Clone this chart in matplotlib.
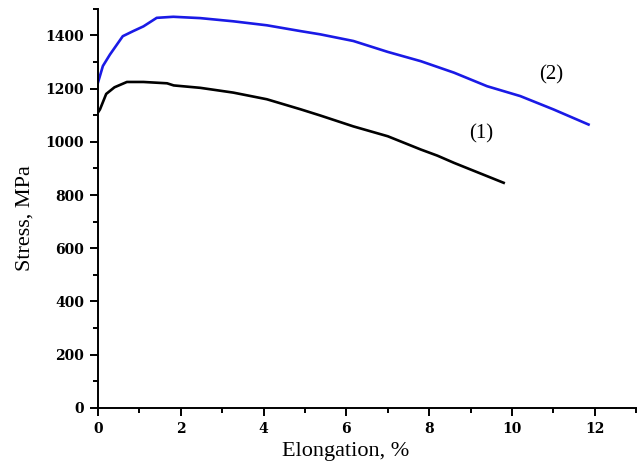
import matplotlib
matplotlib.use("Agg")
import matplotlib.pyplot as plt
from matplotlib.ticker import MultipleLocator

plt.rcParams['font.family'] = ['Liberation Serif', 'DejaVu Serif']

# curve (1), black
elong_1 = [0.0, 0.05, 0.2, 0.4, 0.7, 1.1, 1.67, 1.83, 2.47, 3.27, 4.08, 4.9, 5.37,
           6.17, 7.0, 7.8, 8.2, 8.6, 9.0, 9.8]
stress_1 = [1110, 1122, 1180, 1205, 1225, 1225, 1220, 1212, 1203, 1185, 1160, 1122, 1099,
            1058, 1021, 971, 948, 921, 896, 846]

# curve (2), blue
elong_2 = [0.0, 0.12, 0.29, 0.6, 0.85, 1.1, 1.42, 1.82, 2.47, 3.27, 4.08, 4.9, 5.37,
           6.17, 7.0, 7.8, 8.6, 9.4, 10.2, 11.0, 11.85]
stress_2 = [1222, 1285, 1328, 1397, 1416, 1434, 1466, 1470, 1465, 1453, 1438, 1416, 1404,
            1379, 1338, 1303, 1260, 1209, 1172, 1122, 1065]

fig = plt.figure(figsize=(6.4, 4.63), dpi=100)
ax = fig.add_axes([0.153, 0.119, 0.841, 0.862])

ax.plot(elong_1, stress_1, color='black', lw=1.9)
ax.plot(elong_2, stress_2, color='#1a1ae6', lw=1.9)

ax.text(9.25, 1030, '(1)', fontsize=15, ha='center', va='center')
ax.text(10.95, 1250, '(2)', fontsize=15, ha='center', va='center')

ax.set_xlim(0, 13)
ax.set_ylim(0, 1500)
ax.xaxis.set_major_locator(MultipleLocator(2))
ax.xaxis.set_minor_locator(MultipleLocator(1))
ax.yaxis.set_major_locator(MultipleLocator(200))
ax.yaxis.set_minor_locator(MultipleLocator(100))

for s in ['top', 'right']:
    ax.spines[s].set_visible(False)
for s in ['left', 'bottom']:
    ax.spines[s].set_linewidth(1.4)

ax.tick_params(which='major', direction='out', length=6, width=1.4, pad=4)
ax.tick_params(which='minor', direction='out', length=3.5, width=1.4)
for lbl in ax.get_xticklabels() + ax.get_yticklabels():
    lbl.set_fontfamily('DejaVu Serif')
    lbl.set_fontweight('bold')
    lbl.set_fontsize(10)

ax.set_xlabel('Elongation, %', fontsize=16, va='center')
ax.set_ylabel('Stress, MPa', fontsize=16, va='center')
ax.xaxis.set_label_coords(0.461, -0.11)
ax.yaxis.set_label_coords(-0.136, 0.476)

fig.savefig('out.png', dpi=100)
